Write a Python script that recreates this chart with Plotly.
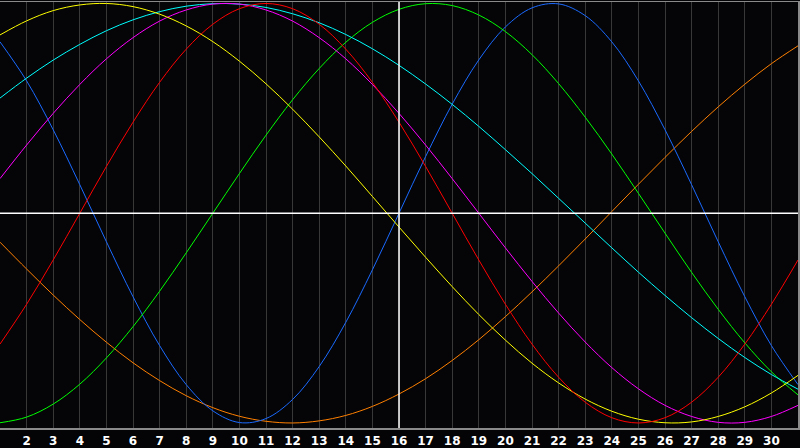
import plotly.graph_objects as go

days = list(range(1, 32))
tick_vals = list(range(2, 31))
tick_text = [str(d) for d in tick_vals]
today = 16

blue = [0.817, 0.631, 0.398, 0.136, -0.136, -0.398, -0.631, -0.817, -0.942, -0.998,
        -0.979, -0.888, -0.731, -0.520, -0.270, 0.0, 0.270, 0.520, 0.731, 0.888,
        0.979, 0.998, 0.942, 0.817, 0.631, 0.398, 0.136, -0.136, -0.398, -0.631, -0.817]
red = [-0.624, -0.434, -0.223, 0.0, 0.223, 0.434, 0.624, 0.782, 0.901, 0.975,
       1.0, 0.975, 0.901, 0.782, 0.624, 0.434, 0.223, 0.0, -0.223, -0.434,
       -0.624, -0.782, -0.901, -0.975, -1.0, -0.975, -0.901, -0.782, -0.624, -0.434, -0.223]
green = [-0.999, -0.972, -0.910, -0.815, -0.690, -0.541, -0.372, -0.189, 0.0, 0.189,
         0.372, 0.541, 0.690, 0.815, 0.910, 0.972, 0.999, 0.990, 0.945, 0.866,
         0.756, 0.618, 0.458, 0.282, 0.095, -0.095, -0.282, -0.458, -0.618, -0.756, -0.866]
cyan = [0.549, 0.644, 0.730, 0.805, 0.870, 0.922, 0.961, 0.987, 0.999, 0.997,
        0.981, 0.951, 0.908, 0.852, 0.784, 0.705, 0.616, 0.519, 0.414, 0.303,
        0.189, 0.071, -0.047, -0.165, -0.281, -0.392, -0.498, -0.597, -0.688, -0.769, -0.839]
magenta = [0.165, 0.325, 0.476, 0.614, 0.736, 0.837, 0.916, 0.969, 0.997, 0.997,
           0.969, 0.916, 0.837, 0.736, 0.614, 0.476, 0.325, 0.165, 0.0, -0.165,
           -0.325, -0.476, -0.614, -0.736, -0.837, -0.916, -0.969, -0.997, -0.997, -0.969, -0.916]
yellow = [0.850, 0.917, 0.966, 0.993, 1.000, 0.985, 0.949, 0.893, 0.818, 0.725,
          0.617, 0.496, 0.364, 0.225, 0.080, -0.066, -0.210, -0.350, -0.483, -0.605,
          -0.715, -0.809, -0.886, -0.944, -0.982, -0.999, -0.995, -0.969, -0.923, -0.857, -0.773]
orange = [-0.138, -0.266, -0.390, -0.507, -0.615, -0.713, -0.798, -0.870, -0.927, -0.968,
          -0.992, -1.000, -0.990, -0.964, -0.921, -0.862, -0.789, -0.702, -0.603, -0.493,
          -0.375, -0.251, -0.123, 0.008, 0.138, 0.266, 0.390, 0.507, 0.615, 0.713, 0.798]

series = [
    ("Intuitive", orange, "#ff8000"),
    ("Physical", blue, "#1a6aff"),
    ("Intellectual", green, "#00ff00"),
    ("Spiritual", cyan, "#00ffff"),
    ("Awareness", magenta, "#ff00ff"),
    ("Aesthetic", yellow, "#ffff00"),
    ("Emotional", red, "#ff0000"),
]

fig = go.Figure()
for name, vals, col in series:
    fig.add_trace(go.Scatter(x=days, y=vals, mode="lines", name=name,
                             line=dict(color=col, width=1, shape="spline", smoothing=1.0),
                             hoverinfo="skip"))

fig.add_shape(type="line", xref="paper", yref="y", x0=0, x1=1, y0=0, y1=0,
              line=dict(color="#ffffff", width=1.5), layer="above")
fig.add_shape(type="line", xref="x", yref="paper", x0=today, x1=today, y0=0, y1=1,
              line=dict(color="#ffffff", width=1.5), layer="above")

fig.update_layout(
    width=800, height=448,
    margin=dict(l=0, r=0, t=0, b=20),
    paper_bgcolor="#040406",
    plot_bgcolor="#050508",
    showlegend=False,
    xaxis=dict(range=[1, 31], tickmode="array", tickvals=tick_vals, ticktext=tick_text,
               showgrid=True, gridcolor="#383838", gridwidth=1, zeroline=False,
               showline=True, linecolor="#8a8a8a", linewidth=1.5, mirror=True,
               ticks="", ticklabelstandoff=1,
               tickfont=dict(family="DejaVu Sans", size=12, color="#ffffff", weight="bold")),
    yaxis=dict(range=[-1.024, 1.007], showgrid=False, zeroline=False, showticklabels=False,
               showline=True, linecolor="#8a8a8a", linewidth=1.5, mirror=True, ticks=""),
)

fig.write_html("out.html", config={"displayModeBar": False, "staticPlot": True},
               post_script="document.body.style.margin='0';document.body.style.overflow='hidden';")
